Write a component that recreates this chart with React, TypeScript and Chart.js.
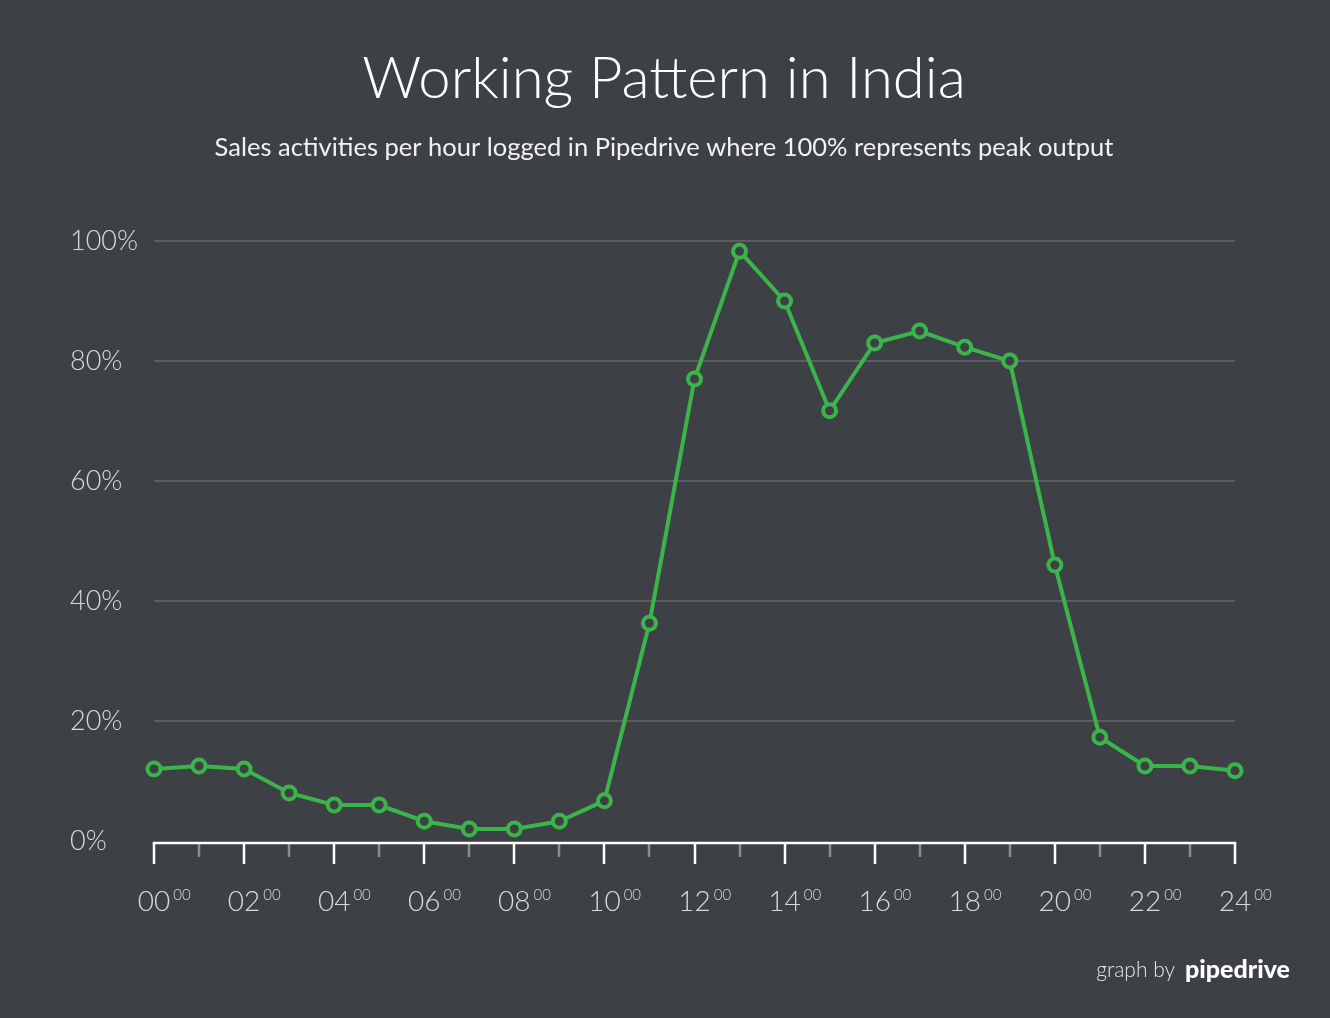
import React, { useEffect, useRef } from "react";
import { Chart, registerables } from "chart.js";

Chart.register(...registerables);

const TITLE = "Working Pattern in India";
const SUBTITLE = "Sales activities per hour logged in Pipedrive where 100% represents peak output";
const hours = [0, 1, 2, 3, 4, 5, 6, 7, 8, 9, 10, 11, 12, 13, 14, 15, 16, 17, 18, 19, 20, 21, 22, 23, 24];
const activity = [12.0, 12.5, 12.0, 8.0, 6.0, 6.0, 3.3, 2.0, 2.0, 3.3, 6.7, 36.3, 77.0, 98.3, 90.0, 71.7, 83.0, 85.0, 82.3, 80.0, 46.0, 17.3, 12.5, 12.5, 11.7];
const xLabelHours = [0, 2, 4, 6, 8, 10, 12, 14, 16, 18, 20, 22, 24];
const yTickStep = 20;

const BG = "#3d4045";
const GREEN = "#3bb54a";
const GRID = "#5a5d62";
const LABEL = "#d9dadb";
const FONT = "Lato, 'Open Sans', sans-serif";

const pad2 = (n: number) => (n < 10 ? "0" + n : String(n));

const decorPlugin = {
  id: "decor",
  beforeDatasetsDraw(chart: any) {
    const { ctx } = chart;
    const xs = chart.scales.x;
    const ys = chart.scales.y;
    const y0 = ys.getPixelForValue(0) + 2;
    ctx.save();
    // ticks
    hours.forEach((h) => {
      const px = Math.round(xs.getPixelForValue(h));
      const major = h % 2 === 0;
      ctx.strokeStyle = major ? "#ffffff" : "#8a8c90";
      ctx.lineWidth = 2.5;
      ctx.beginPath();
      ctx.moveTo(px, y0);
      ctx.lineTo(px, y0 + (major ? 21 : 14));
      ctx.stroke();
    });
    // axis line
    ctx.strokeStyle = "#ffffff";
    ctx.lineWidth = 2.5;
    ctx.beginPath();
    ctx.moveTo(xs.getPixelForValue(0) - 1.2, y0);
    ctx.lineTo(xs.getPixelForValue(24) + 1.2, y0);
    ctx.stroke();
    // x labels
    ctx.fillStyle = LABEL;
    ctx.textBaseline = "alphabetic";
    xLabelHours.forEach((h) => {
      const px = xs.getPixelForValue(h);
      ctx.font = `300 28px ${FONT}`;
      ctx.textAlign = "center";
      const main = pad2(h);
      ctx.fillText(main, px, y0 + 68);
      const w = ctx.measureText(main).width;
      ctx.font = `300 15px ${FONT}`;
      ctx.textAlign = "left";
      ctx.fillText("00", px + w / 2 + 3, y0 + 57);
    });
    ctx.restore();
  },
  afterDraw(chart: any) {
    const { ctx } = chart;
    ctx.save();
    ctx.fillStyle = "#ffffff";
    ctx.textAlign = "center";
    ctx.textBaseline = "alphabetic";
    ctx.font = `300 58px ${FONT}`;
    ctx.fillText(TITLE, 664, 98);
    ctx.font = `400 25.5px ${FONT}`;
    ctx.fillStyle = "#f2f2f2";
    ctx.fillText(SUBTITLE, 664, 156);
    // footer
    ctx.textAlign = "right";
    ctx.font = `900 25px ${FONT}`;
    ctx.fillStyle = "#ffffff";
    ctx.fillText("pipedrive", 1290, 978);
    const w = ctx.measureText("pipedrive").width;
    ctx.font = `300 21px ${FONT}`;
    ctx.fillStyle = "#e6e6e6";
    ctx.fillText("graph by", 1290 - w - 10, 977);
    ctx.restore();
  },
};

export default function App() {
  const ref = useRef<HTMLCanvasElement | null>(null);
  useEffect(() => {
    document.body.style.margin = "0";
    document.body.style.background = BG;
    const canvas = ref.current!;
    const chart = new Chart(canvas, {
      type: "line",
      data: {
        datasets: [
          {
            data: hours.map((h, i) => ({ x: h, y: activity[i] })),
            borderColor: GREEN,
            borderWidth: 4,
            pointRadius: 6.5,
            pointHoverRadius: 6.5,
            pointBorderWidth: 4,
            pointBackgroundColor: BG,
            pointBorderColor: GREEN,
            tension: 0,
            clip: false as any,
          },
        ],
      },
      options: {
        responsive: false,
        devicePixelRatio: 1,
        animation: false,
        layout: { padding: { top: 241, bottom: 177, left: 70, right: 95 } },
        plugins: { legend: { display: false }, tooltip: { enabled: false } },
        scales: {
          x: { type: "linear", min: 0, max: 24, display: false },
          y: {
            min: 0,
            max: 100,
            afterFit(s: any) {
              s.width = 84;
            },
            border: { display: false },
            grid: {
              drawTicks: false,
              lineWidth: 2,
              color: (c: any) => (c.tick && c.tick.value === 0 ? "rgba(0,0,0,0)" : GRID),
            },
            ticks: {
              stepSize: yTickStep,
              padding: 18,
              crossAlign: "far",
              color: LABEL,
              font: { family: FONT, size: 27, weight: "300" as any },
              callback: (v: any) => v + "%",
            },
          },
        },
      },
      plugins: [decorPlugin],
    });
    return () => chart.destroy();
  }, []);
  return (
    <div style={{ position: "absolute", left: 0, top: 0, width: 1330, height: 1018, background: BG }}>
      <canvas ref={ref} width={1330} height={1018} style={{ display: "block" }} />
    </div>
  );
}
